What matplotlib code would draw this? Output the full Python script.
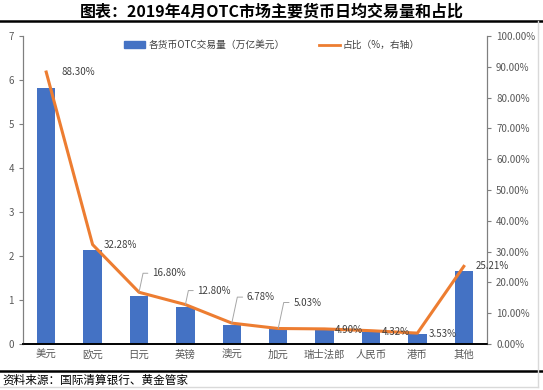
import matplotlib.pyplot as plt
from matplotlib.lines import Line2D
from matplotlib.patches import Patch
from matplotlib.ticker import FuncFormatter

plt.rcParams['font.family'] = ['Noto Sans CJK SC', 'DejaVu Sans']

categories = ['美元', '欧元', '日元', '英镑', '澳元', '加元', '瑞士法郎', '人民币', '港币', '其他']
volume = [5.82, 2.14, 1.09, 0.83, 0.43, 0.33, 0.32, 0.28, 0.23, 1.66]
share = [88.30, 32.28, 16.80, 12.80, 6.78, 5.03, 4.90, 4.32, 3.53, 25.21]
share_labels = ['88.30%', '32.28%', '16.80%', '12.80%', '6.78%', '5.03%', '4.90%', '4.32%', '3.53%', '25.21%']
# label offsets in pixels (dx, dy up), leader line or not
label_off = [(15, 0, False), (11, 0, False), (13, 19, True), (12, 14, True), (15, 26, True),
             (15, 26, True), (10, -1, False), (11, -1, False), (11, -1, False), (12, 0, False)]

W, H = 543, 390
fig = plt.figure(figsize=(W / 100, H / 100), dpi=100)

# axes in pixel box
x0, x1, ytop, ybot = 23, 487, 36, 344
ax = fig.add_axes([x0 / W, (H - ybot) / H, (x1 - x0) / W, (ybot - ytop) / H])
ax2 = ax.twinx()

xs = list(range(len(categories)))
ax.bar(xs, volume, width=0.4, color='#4472C4', zorder=2)
ax.set_ylim(0, 7)
ax.set_xlim(-0.5, len(categories) - 0.5)
ax.set_xticks(xs)
ax.set_xticklabels(categories, fontsize=7.5, color='#595959')
ax.set_yticks(range(8))
ax.tick_params(axis='y', labelsize=7, labelcolor='#595959', color='#7f7f7f', length=3, width=0.8)
ax.tick_params(axis='x', length=0, pad=4)

ax2.plot(xs, [s / 100 for s in share], color='#ED7D31', lw=2.2, zorder=3)
ax2.set_ylim(0, 1.0)
ax2.set_yticks([i / 10 for i in range(11)])
ax2.yaxis.set_major_formatter(FuncFormatter(lambda v, p: f'{v * 100:.2f}%'))
ax2.tick_params(axis='y', labelsize=7, labelcolor='#595959', color='#7f7f7f', length=3, width=0.8)

for a in (ax, ax2):
    a.spines['top'].set_visible(False)
    a.spines['left'].set_color('#7f7f7f')
    a.spines['right'].set_color('#7f7f7f')
    a.spines['bottom'].set_color('black')
    a.spines['bottom'].set_linewidth(1.2)
    a.patch.set_visible(False)

for i, (s, lab) in enumerate(zip(share, share_labels)):
    dx, dy, lead = label_off[i]
    if lead:
        ax2.annotate(lab, xy=(i, s / 100), xytext=(dx * 0.72, dy * 0.72), textcoords='offset points',
                     fontsize=7, color='#404040', va='center', ha='left',
                     arrowprops=dict(arrowstyle='-', color='#a6a6a6', lw=0.7, shrinkA=1, shrinkB=0,
                                     connectionstyle='angle,angleA=0,angleB=78,rad=0'))
    else:
        ax2.annotate(lab, xy=(i, s / 100), xytext=(dx * 0.72, dy * 0.72), textcoords='offset points',
                     fontsize=7, color='#404040', va='center', ha='left')

handles = [Patch(color='#4472C4'), Line2D([], [], color='#ED7D31', lw=2)]
fig.legend(handles, ['各货币OTC交易量（万亿美元）', '占比（%，右轴）'], ncol=2, frameon=False,
           loc='center', bbox_to_anchor=(272 / W, 1 - 45 / H), fontsize=7, labelcolor='#404040',
           handlelength=2.2, handleheight=0.6, columnspacing=3.5, handletextpad=0.3)

# title band and source
fig.text(0.5, 1 - 12 / H, '图表：2019年4月OTC市场主要货币日均交易量和占比', ha='center', va='center',
         fontsize=11.5, fontweight='bold', color='black')
fig.add_artist(Line2D([0, 1], [1 - 21 / H, 1 - 21 / H], color='black', lw=1.8))
fig.add_artist(Line2D([0, 1], [1 - 371 / H, 1 - 371 / H], color='black', lw=1.8))
fig.text(2 / W, 1 - 380 / H, '资料来源：国际清算银行、黄金管家', ha='left', va='center', fontsize=8.4, color='black')
fig.add_artist(Line2D([538 / W, 538 / W], [1 - 21 / H, 1 - 387 / H], color='#d9d9d9', lw=1))
fig.add_artist(Line2D([0, 538 / W], [1 - 387 / H, 1 - 387 / H], color='#d9d9d9', lw=1))

fig.savefig('out.png', dpi=100)
